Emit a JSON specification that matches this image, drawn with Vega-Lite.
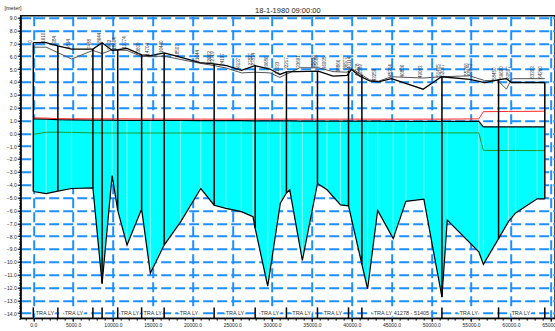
{
  "$schema": "https://vega.github.io/schema/vega-lite/v6.json",
  "width": 534.3,
  "height": 302.6,
  "autosize": {"type": "none"},
  "padding": {"left": 20.7, "top": 15.7, "right": 0, "bottom": 12.7},
  "background": "white",
  "title": {
    "text": "18-1-1980 09:00:00",
    "anchor": "middle",
    "font": "Liberation Sans",
    "fontSize": 7.5,
    "fontWeight": "normal",
    "color": "#222",
    "baseline": "alphabetic",
    "offset": 1.8,
    "dy": 17
  },
  "config": {
    "font": "Liberation Sans",
    "view": {"stroke": "#111", "strokeWidth": 1.5},
    "axis": {
      "labelFont": "Liberation Sans",
      "labelFontSize": 5,
      "labelColor": "#222",
      "domainColor": "#000",
      "tickColor": "#000",
      "gridColor": "#1e8fff",
      "gridWidth": 2,
      "gridDash": [10, 4],
      "gridOpacity": 1
    }
  },
  "datasets": {
    "profile": [
      {"x": 0, "bed": -4.53, "wl": 1.12, "maxLevel": 1.2, "minLevel": -0.08},
      {"x": 1610, "bed": -4.7, "wl": 1.1, "maxLevel": 1.18, "minLevel": 0.08},
      {"x": 3084, "bed": -4.5, "wl": 1.06, "maxLevel": 1.14, "minLevel": 0.08},
      {"x": 4814, "bed": -4.3, "wl": 1.04, "maxLevel": 1.13, "minLevel": 0.07},
      {"x": 7488, "bed": -4.25, "wl": 1.03, "maxLevel": 1.12, "minLevel": 0.03},
      {"x": 8644, "bed": -11.7, "wl": 1.02, "maxLevel": 1.12, "minLevel": 0.02},
      {"x": 9902, "bed": -3.3, "wl": 1.02, "maxLevel": 1.12, "minLevel": 0.02},
      {"x": 10604, "bed": -6.0, "wl": 1.01, "maxLevel": 1.12, "minLevel": 0.02},
      {"x": 11774, "bed": -8.7, "wl": 1.01, "maxLevel": 1.12, "minLevel": 0.02},
      {"x": 13609, "bed": -5.9, "wl": 1.0, "maxLevel": 1.11, "minLevel": 0.02},
      {"x": 14704, "bed": -10.9, "wl": 1.0, "maxLevel": 1.11, "minLevel": 0.02},
      {"x": 16440, "bed": -8.7, "wl": 1.0, "maxLevel": 1.11, "minLevel": 0.02},
      {"x": 18507, "bed": -6.9, "wl": 1.0, "maxLevel": 1.11, "minLevel": 0.02},
      {"x": 21044, "bed": -4.3, "wl": 0.99, "maxLevel": 1.1, "minLevel": 0.02},
      {"x": 22719, "bed": -5.6, "wl": 0.99, "maxLevel": 1.1, "minLevel": 0.02},
      {"x": 24197, "bed": -5.85, "wl": 0.98, "maxLevel": 1.1, "minLevel": 0.02},
      {"x": 26137, "bed": -6.1, "wl": 0.98, "maxLevel": 1.1, "minLevel": 0.02},
      {"x": 27600, "bed": -6.5, "wl": 0.97, "maxLevel": 1.1, "minLevel": 0.02},
      {"x": 27874, "bed": -7.4, "wl": 0.97, "maxLevel": 1.1, "minLevel": 0.02},
      {"x": 29450, "bed": -11.9, "wl": 0.97, "maxLevel": 1.1, "minLevel": 0.02},
      {"x": 31033, "bed": -5.45, "wl": 0.96, "maxLevel": 1.1, "minLevel": 0.02},
      {"x": 31800, "bed": -4.65, "wl": 0.96, "maxLevel": 1.1, "minLevel": 0.02},
      {"x": 32217, "bed": -4.4, "wl": 0.96, "maxLevel": 1.1, "minLevel": 0.02},
      {"x": 33800, "bed": -9.9, "wl": 0.95, "maxLevel": 1.1, "minLevel": 0.03},
      {"x": 35700, "bed": -3.9, "wl": 0.95, "maxLevel": 1.1, "minLevel": 0.03},
      {"x": 36905, "bed": -4.4, "wl": 0.95, "maxLevel": 1.1, "minLevel": 0.03},
      {"x": 38600, "bed": -5.57, "wl": 0.94, "maxLevel": 1.1, "minLevel": 0.03},
      {"x": 39600, "bed": -5.65, "wl": 0.94, "maxLevel": 1.1, "minLevel": 0.03},
      {"x": 41278, "bed": -10.2, "wl": 0.94, "maxLevel": 1.1, "minLevel": 0.03},
      {"x": 42000, "bed": -12.1, "wl": 0.94, "maxLevel": 1.1, "minLevel": 0.03},
      {"x": 43259, "bed": -6.0, "wl": 0.94, "maxLevel": 1.1, "minLevel": 0.03},
      {"x": 45214, "bed": -8.2, "wl": 0.93, "maxLevel": 1.1, "minLevel": 0.03},
      {"x": 46806, "bed": -5.3, "wl": 0.93, "maxLevel": 1.1, "minLevel": 0.03},
      {"x": 49063, "bed": -5.13, "wl": 0.93, "maxLevel": 1.1, "minLevel": 0.03},
      {"x": 51336, "bed": -12.75, "wl": 0.93, "maxLevel": 1.1, "minLevel": 0.03},
      {"x": 52007, "bed": -6.75, "wl": 0.93, "maxLevel": 1.1, "minLevel": 0.03},
      {"x": 55967, "bed": -9.23, "wl": 0.93, "maxLevel": 1.12, "minLevel": 0.03},
      {"x": 56545, "bed": -10.2, "wl": 0.5, "maxLevel": 1.68, "minLevel": -1.33},
      {"x": 58450, "bed": -8.2, "wl": 0.5, "maxLevel": 1.69, "minLevel": -1.34},
      {"x": 59690, "bed": -6.88, "wl": 0.5, "maxLevel": 1.7, "minLevel": -1.34},
      {"x": 60597, "bed": -6.2, "wl": 0.5, "maxLevel": 1.7, "minLevel": -1.34},
      {"x": 63303, "bed": -5.1, "wl": 0.5, "maxLevel": 1.71, "minLevel": -1.35},
      {"x": 64260, "bed": -5.1, "wl": 0.5, "maxLevel": 1.72, "minLevel": -1.35}
    ],
    "leftBank": [
      {"x": 0, "z": 7.05}, {"x": 1610, "z": 7.05}, {"x": 3084, "z": 6.8},
      {"x": 4814, "z": 6.55}, {"x": 7488, "z": 6.55}, {"x": 8644, "z": 7.05},
      {"x": 9902, "z": 6.45}, {"x": 10604, "z": 6.5}, {"x": 11774, "z": 6.6},
      {"x": 13609, "z": 6.1}, {"x": 14704, "z": 6.05}, {"x": 16440, "z": 6.25},
      {"x": 18000, "z": 6.0}, {"x": 20930, "z": 5.5}, {"x": 22690, "z": 5.4},
      {"x": 24280, "z": 5.27}, {"x": 26160, "z": 4.9}, {"x": 27830, "z": 5.27},
      {"x": 29720, "z": 5.0}, {"x": 30970, "z": 4.58}, {"x": 31800, "z": 4.78},
      {"x": 35790, "z": 4.83}, {"x": 37660, "z": 4.45}, {"x": 39420, "z": 4.5},
      {"x": 39970, "z": 4.96}, {"x": 41020, "z": 4.45}, {"x": 42270, "z": 4.07},
      {"x": 43350, "z": 4.0}, {"x": 45000, "z": 4.25}, {"x": 48970, "z": 3.43},
      {"x": 51280, "z": 4.4}, {"x": 54830, "z": 4.2}, {"x": 56710, "z": 3.95},
      {"x": 58380, "z": 4.15}, {"x": 59440, "z": 4.25}, {"x": 60060, "z": 3.95},
      {"x": 64260, "z": 3.95}
    ],
    "rightBank": [
      {"x": 0, "z": 6.7}, {"x": 1610, "z": 6.7}, {"x": 4814, "z": 5.78},
      {"x": 7488, "z": 6.45}, {"x": 8644, "z": 6.2}, {"x": 9902, "z": 6.5},
      {"x": 11774, "z": 6.45}, {"x": 13609, "z": 5.97}, {"x": 16440, "z": 6.0},
      {"x": 19690, "z": 5.6}, {"x": 20930, "z": 5.45}, {"x": 22690, "z": 5.27},
      {"x": 24280, "z": 5.07}, {"x": 26160, "z": 4.7}, {"x": 27830, "z": 4.75},
      {"x": 29720, "z": 4.7}, {"x": 30970, "z": 4.35}, {"x": 33480, "z": 5.1},
      {"x": 35790, "z": 5.1}, {"x": 37660, "z": 4.8}, {"x": 39420, "z": 4.75},
      {"x": 39970, "z": 5.05}, {"x": 42270, "z": 4.15}, {"x": 43350, "z": 4.05},
      {"x": 45000, "z": 4.4}, {"x": 48970, "z": 4.3}, {"x": 51280, "z": 4.4},
      {"x": 54830, "z": 4.47}, {"x": 56710, "z": 4.1}, {"x": 58380, "z": 4.1},
      {"x": 59440, "z": 3.43}, {"x": 60060, "z": 4.2}, {"x": 60350, "z": 4.25},
      {"x": 64260, "z": 4.25}
    ],
    "structures": [
      {"x": 0, "bed": -4.53, "top": 7.05},
      {"x": 3084, "bed": -4.5, "top": 6.8},
      {"x": 7488, "bed": -4.25, "top": 6.55},
      {"x": 8644, "bed": -11.7, "top": 7.05},
      {"x": 10604, "bed": -6.0, "top": 6.5},
      {"x": 13609, "bed": -5.9, "top": 6.1},
      {"x": 16440, "bed": -8.7, "top": 6.25},
      {"x": 22719, "bed": -5.6, "top": 5.4},
      {"x": 27874, "bed": -7.4, "top": 5.27},
      {"x": 31800, "bed": -4.65, "top": 4.78},
      {"x": 35700, "bed": -3.9, "top": 4.83},
      {"x": 39600, "bed": -5.65, "top": 4.85},
      {"x": 41278, "bed": -10.2, "top": 4.55},
      {"x": 51336, "bed": -12.75, "top": 4.4},
      {"x": 58450, "bed": -8.2, "top": 4.18},
      {"x": 64260, "bed": -5.1, "top": 3.95}
    ],
    "nodes": [
      {"x": 0, "level": 7.05, "id": "0"},
      {"x": 1610, "level": 7.05, "id": "1610"},
      {"x": 3084, "level": 6.8, "id": "3084"},
      {"x": 4814, "level": 6.55, "id": "4814"},
      {"x": 7488, "level": 6.55, "id": "7488"},
      {"x": 8644, "level": 7.05, "id": "8644"},
      {"x": 9902, "level": 6.5, "id": "9902"},
      {"x": 10604, "level": 6.5, "id": "10604"},
      {"x": 11774, "level": 6.6, "id": "11774"},
      {"x": 13609, "level": 6.1, "id": "13609"},
      {"x": 14704, "level": 6.05, "id": "14704"},
      {"x": 16440, "level": 6.25, "id": "16440"},
      {"x": 18507, "level": 5.95, "id": "18507"},
      {"x": 21044, "level": 5.5, "id": "21044"},
      {"x": 22500, "level": 5.4, "id": "22663"},
      {"x": 22950, "level": 5.4, "id": "22719"},
      {"x": 24197, "level": 5.25, "id": "24197"},
      {"x": 26137, "level": 4.9, "id": "26137"},
      {"x": 27650, "level": 5.27, "id": "27827"},
      {"x": 28000, "level": 5.27, "id": "27874"},
      {"x": 29686, "level": 5.0, "id": "29686"},
      {"x": 31033, "level": 4.6, "id": "31033"},
      {"x": 32217, "level": 4.95, "id": "32217"},
      {"x": 33691, "level": 5.1, "id": "33691"},
      {"x": 35550, "level": 5.1, "id": "35638"},
      {"x": 35900, "level": 5.1, "id": "35688"},
      {"x": 36905, "level": 5.0, "id": "36905"},
      {"x": 38700, "level": 4.75, "id": "38866"},
      {"x": 39600, "level": 4.95, "id": "39877"},
      {"x": 40114, "level": 5.0, "id": "40114"},
      {"x": 41100, "level": 4.45, "id": "41278"},
      {"x": 41500, "level": 4.4, "id": "41589"},
      {"x": 43259, "level": 4.05, "id": "43259"},
      {"x": 45214, "level": 4.4, "id": "45214"},
      {"x": 46806, "level": 4.35, "id": "46806"},
      {"x": 49063, "level": 4.3, "id": "49063"},
      {"x": 51300, "level": 4.4, "id": "51405"},
      {"x": 51750, "level": 4.4, "id": "52007"},
      {"x": 54800, "level": 4.47, "id": "55266"},
      {"x": 55250, "level": 4.45, "id": "56872"},
      {"x": 58350, "level": 4.15, "id": "58450"},
      {"x": 59150, "level": 4.25, "id": "59690"},
      {"x": 60050, "level": 4.25, "id": "60597"},
      {"x": 63150, "level": 4.25, "id": "63303"},
      {"x": 64100, "level": 4.25, "id": "64260"}
    ],
    "reaches": [
      {"x": 1470, "name": "TRA LY"},
      {"x": 5110, "name": "TRA LY"},
      {"x": 12140, "name": "TRA LY"},
      {"x": 15000, "name": "TRA LY"},
      {"x": 19550, "name": "TRA LY"},
      {"x": 25330, "name": "TRA LY"},
      {"x": 29730, "name": "TRA LY"},
      {"x": 33700, "name": "TRA LY"},
      {"x": 37650, "name": "TRA LY"},
      {"x": 46250, "name": "TRA LY  41278 - 51405"},
      {"x": 54700, "name": "TRA LY"},
      {"x": 61240, "name": "TRA LY"}
    ]
  },
  "resolve": {"axis": {"x": "independent", "y": "independent"}},
  "layer": [
    {
      "data": {"name": "profile"},
      "mark": {"type": "area", "color": "#00ffff", "opacity": 1},
      "encoding": {
        "x": {
          "field": "x", "type": "quantitative",
          "scale": {"domain": [-1583, 65540], "nice": false, "zero": false},
          "axis": {
            "orient": "bottom", "title": null, "format": ".1f",
            "values": [0, 5000, 10000, 15000, 20000, 25000, 30000, 35000, 40000, 45000, 50000, 55000, 60000, 65000],
            "tickSize": 3, "labelPadding": 1, "labelFlush": false, "labelOverlap": false, "grid": true
          }
        },
        "y": {
          "field": "wl", "type": "quantitative",
          "scale": {"domain": [-14.4, 9.15], "nice": false, "zero": false},
          "axis": {
            "orient": "left", "format": ".1f",
            "values": [-14, -13, -12, -11, -10, -9, -8, -7, -6, -5, -4, -3, -2, -1, 0, 1, 2, 3, 4, 5, 6, 7, 8, 9],
            "tickSize": 3.5, "labelPadding": 1, "labelFlush": false, "labelOverlap": false, "grid": true,
            "title": "[meter]", "titleAngle": 0, "titleAlign": "left", "titleBaseline": "alphabetic",
            "titleX": -16.7, "titleY": -6.2, "titleFontSize": 5.5, "titleFontWeight": "normal", "titleColor": "#222"
          }
        },
        "y2": {"field": "bed"}
      }
    },
    {
      "data": {"name": "profile"},
      "mark": {"type": "rule", "color": "#ffffff", "opacity": 0.55, "strokeWidth": 1},
      "encoding": {
        "x": {"field": "x", "type": "quantitative", "axis": null},
        "y": {"field": "wl", "type": "quantitative", "axis": null},
        "y2": {"field": "bed"}
      }
    },
    {
      "data": {"name": "profile"},
      "mark": {"type": "line", "color": "#000", "strokeWidth": 1.2},
      "encoding": {
        "x": {
          "field": "x", "type": "quantitative",
          "axis": {"orient": "bottom", "title": null, "labels": false, "grid": false, "domain": false, "tickCount": 67, "tickSize": 1.8}
        },
        "y": {
          "field": "bed", "type": "quantitative",
          "axis": {"orient": "left", "title": null, "labels": false, "grid": false, "domain": false, "tickCount": 118, "tickSize": 2}
        }
      }
    },
    {
      "data": {"name": "profile"},
      "mark": {"type": "line", "color": "#000", "strokeWidth": 1.2},
      "encoding": {
        "x": {"field": "x", "type": "quantitative", "axis": null},
        "y": {"field": "wl", "type": "quantitative", "axis": null}
      }
    },
    {
      "data": {"name": "profile"},
      "mark": {"type": "line", "color": "#ff2a2a", "strokeWidth": 1},
      "encoding": {
        "x": {"field": "x", "type": "quantitative", "axis": null},
        "y": {"field": "maxLevel", "type": "quantitative", "axis": null}
      }
    },
    {
      "data": {"name": "profile"},
      "mark": {"type": "line", "color": "#1f9a2a", "strokeWidth": 1},
      "encoding": {
        "x": {"field": "x", "type": "quantitative", "axis": null},
        "y": {"field": "minLevel", "type": "quantitative", "axis": null}
      }
    },
    {
      "data": {"name": "rightBank"},
      "mark": {"type": "line", "color": "#555", "strokeWidth": 1},
      "encoding": {
        "x": {"field": "x", "type": "quantitative", "axis": null},
        "y": {"field": "z", "type": "quantitative", "axis": null}
      }
    },
    {
      "data": {"name": "leftBank"},
      "mark": {"type": "line", "color": "#000", "strokeWidth": 1.3},
      "encoding": {
        "x": {"field": "x", "type": "quantitative", "axis": null},
        "y": {"field": "z", "type": "quantitative", "axis": null}
      }
    },
    {
      "data": {"name": "structures"},
      "mark": {"type": "rule", "color": "#000", "strokeWidth": 1.5},
      "encoding": {
        "x": {"field": "x", "type": "quantitative", "axis": null},
        "y": {"field": "bed", "type": "quantitative", "axis": null},
        "y2": {"field": "top"}
      }
    },
    {
      "data": {"name": "reaches"},
      "mark": {"type": "text", "align": "center", "baseline": "middle", "fontSize": 5.5, "color": "#fff", "stroke": "#fff", "strokeWidth": 3.5},
      "encoding": {
        "x": {"field": "x", "type": "quantitative", "axis": null},
        "y": {"datum": -14.0, "type": "quantitative", "axis": null},
        "text": {"field": "name"}
      }
    },
    {
      "data": {"name": "structures"},
      "mark": {"type": "rule", "color": "#000", "strokeWidth": 1.5},
      "encoding": {
        "x": {"field": "x", "type": "quantitative", "axis": null},
        "y": {"datum": -13.55, "type": "quantitative", "axis": null},
        "y2": {"datum": -14.4}
      }
    },
    {
      "data": {"name": "nodes"},
      "mark": {"type": "text", "angle": 270, "align": "left", "baseline": "middle", "fontSize": 4.5, "color": "#333", "dy": -2.5},
      "encoding": {
        "x": {"field": "x", "type": "quantitative", "axis": null},
        "y": {"field": "level", "type": "quantitative", "axis": null},
        "text": {"field": "id"}
      }
    },
    {
      "data": {"name": "reaches"},
      "mark": {"type": "text", "align": "center", "baseline": "middle", "fontSize": 5.5, "color": "#333"},
      "encoding": {
        "x": {"field": "x", "type": "quantitative", "axis": null},
        "y": {"datum": -14.0, "type": "quantitative", "axis": null},
        "text": {"field": "name"}
      }
    }
  ]
}
